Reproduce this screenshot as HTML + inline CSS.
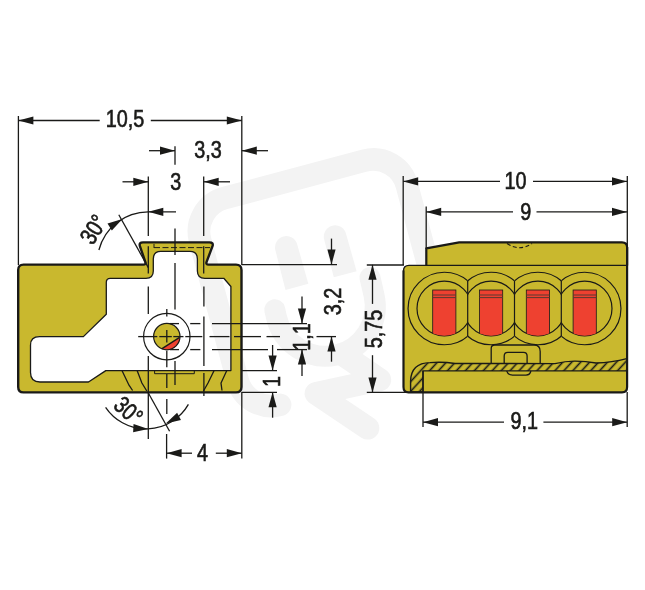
<!DOCTYPE html>
<html><head><meta charset="utf-8"><title>Drawing</title>
<style>
html,body{margin:0;padding:0;background:#fff;}
body{width:645px;height:590px;overflow:hidden;}
svg{display:block;font-family:"Liberation Sans",sans-serif;}
</style></head>
<body>
<svg width="645" height="590" viewBox="0 0 645 590">
<rect width="645" height="590" fill="#ffffff"/>
<g fill="none" stroke="#f3f3f3" stroke-linecap="round" stroke-linejoin="round">
<g transform="translate(322.2,282.7) rotate(-15.0)">
<path d="M-72.3,107 A34.7,34.7 0 0 1 -107,72.3 L-107,-72.3 A34.7,34.7 0 0 1 -72.3,-107 L72.3,-107 A34.7,34.7 0 0 1 107,-72.3 L107,72.3 A34.7,34.7 0 0 1 72.3,107" stroke-width="22.7"/>
</g>
<g transform="translate(286.3,247.3) rotate(-15)"><path d="M-11.3,0 A11.3,11.3 0 0 1 11.3,0 L11.8,41 L-11.8,41 Z" fill="#f3f3f3" stroke="none"/></g>
<g transform="translate(335.1,236.6) rotate(-15)"><path d="M-11.3,0 A11.3,11.3 0 0 1 11.3,0 L11.8,39 L-11.8,39 Z" fill="#f3f3f3" stroke="none"/></g>
<g transform="translate(323,296.5) rotate(-13)">
<path d="M-50,2 L-50,10 A50,50 0 0 0 50,10 L50,-8" stroke-width="21"/>
</g>
<path d="M345,356 L379.7,379.8 L316.1,393.4 L367.8,428.1" stroke-width="23"/>
</g>
<path d="M18.2,270 Q18.2,264.6 23.5,264.6 L143.3,264.6 Q146.3,264.6 145.3,261.8 L139.9,246.2 Q138.8,242.4 143,242.4 L209.5,242.4 Q213.7,242.4 212.5,246.2 L206.6,261.8 Q205.6,264.6 208.6,264.6 L236,264.6 Q241.5,264.6 241.5,270 L241.5,387 Q241.5,392.4 236,392.4 L23.5,392.4 Q18.2,392.4 18.2,387 Z M160.8,251.4 L189.9,251.4 Q197.4,251.4 197.4,259 L197.4,271 Q197.4,278.3 204.8,278.3 L223.8,278.3 L230.9,286.5 L230.9,370.6 L105.8,370.6 L88.5,382 L40,382 Q30.5,382 30.5,372.5 L30.5,345 Q30.5,336.6 39.5,336.6 L83.4,336.6 L106.3,314.2 L106.3,282.3 Q106.3,278.3 110.3,278.3 L146,278.3 Q153.3,278.3 153.3,271 L153.3,259 Q153.3,251.4 160.8,251.4 Z" fill="#c9b82e" fill-rule="evenodd" stroke="none"/>
<path d="M160.8,251.4 L189.9,251.4 Q197.4,251.4 197.4,259 L197.4,271 Q197.4,278.3 204.8,278.3 L223.8,278.3 L230.9,286.5 L230.9,370.6 L105.8,370.6 L88.5,382 L40,382 Q30.5,382 30.5,372.5 L30.5,345 Q30.5,336.6 39.5,336.6 L83.4,336.6 L106.3,314.2 L106.3,282.3 Q106.3,278.3 110.3,278.3 L146,278.3 Q153.3,278.3 153.3,271 L153.3,259 Q153.3,251.4 160.8,251.4 Z" fill="none" stroke="#1a1a18" stroke-width="1.3" stroke-linejoin="round"/>
<path d="M18.2,270 Q18.2,264.6 23.5,264.6 L143.3,264.6 Q146.3,264.6 145.3,261.8 L139.9,246.2 Q138.8,242.4 143,242.4 L209.5,242.4 Q213.7,242.4 212.5,246.2 L206.6,261.8 Q205.6,264.6 208.6,264.6 L236,264.6 Q241.5,264.6 241.5,270 L241.5,387 Q241.5,392.4 236,392.4 L23.5,392.4 Q18.2,392.4 18.2,387 Z" fill="none" stroke="#1a1a18" stroke-width="2.4" stroke-linejoin="round"/>
<circle cx="166.8" cy="336.6" r="13.2" fill="#c9b82e" stroke="none"/>
<clipPath id="ic"><circle cx="166.8" cy="336.6" r="13.2"/></clipPath>
<polygon clip-path="url(#ic)" points="161.7,348.8 179.4,337.6 185,352 165,355" fill="#ee4130"/>
<line x1="161.7" y1="348.8" x2="179.6" y2="337.4" stroke="#1a1a18" stroke-width="1.4"/>
<circle cx="166.8" cy="336.6" r="13.2" fill="none" stroke="#1a1a18" stroke-width="1.2"/>
<circle cx="166.8" cy="336.6" r="23.2" fill="none" stroke="#1a1a18" stroke-width="1.2"/>
<line x1="154" y1="247.6" x2="210" y2="247.6" stroke="#1a1a18" stroke-width="1" stroke-dasharray="6 2.5"/>
<line x1="154" y1="244" x2="154" y2="248" stroke="#1a1a18" stroke-width="1"/>
<path d="M154.6,370.2 L154.6,373.7 L194.3,373.7 L194.3,370.2" fill="none" stroke="#1a1a18" stroke-width="1"/>
<path d="M122.1,370.8 L129,385.2 L132.6,390.5" fill="none" stroke="#1a1a18" stroke-width="1.3"/>
<path d="M137.2,370.8 L141.9,383 L146.8,391" fill="none" stroke="#1a1a18" stroke-width="1.3"/>
<path d="M214,370.8 L208,383 L203.5,391" fill="none" stroke="#1a1a18" stroke-width="1.3"/>
<path d="M226.7,370.8 L221,383 L222,390.5" fill="none" stroke="#1a1a18" stroke-width="1.3"/>
<line x1="148.3" y1="176.6" x2="148.3" y2="236" stroke="#1a1a18" stroke-width="1.3"/>
<line x1="148.3" y1="246.3" x2="148.3" y2="273.6" stroke="#1a1a18" stroke-width="1.3"/>
<line x1="148.3" y1="286.5" x2="148.3" y2="314" stroke="#1a1a18" stroke-width="1.3"/>
<line x1="148.3" y1="356" x2="148.3" y2="439" stroke="#1a1a18" stroke-width="1.3"/>
<line x1="203.7" y1="176.6" x2="203.7" y2="236" stroke="#1a1a18" stroke-width="1.3"/>
<line x1="203.7" y1="246.3" x2="203.7" y2="273.6" stroke="#1a1a18" stroke-width="1.3"/>
<line x1="203.9" y1="286.5" x2="203.9" y2="306.5" stroke="#1a1a18" stroke-width="1.3"/>
<line x1="203.9" y1="316.5" x2="203.9" y2="366" stroke="#1a1a18" stroke-width="1.3"/>
<line x1="203.9" y1="373" x2="203.9" y2="396" stroke="#1a1a18" stroke-width="1.3"/>
<line x1="175" y1="146.2" x2="175" y2="164.8" stroke="#1a1a18" stroke-width="1.3"/>
<line x1="175" y1="228.5" x2="175" y2="255" stroke="#1a1a18" stroke-width="1.3"/>
<line x1="175" y1="263" x2="175" y2="309.5" stroke="#1a1a18" stroke-width="1.3"/>
<line x1="175" y1="361" x2="175" y2="385" stroke="#1a1a18" stroke-width="1.3"/>
<line x1="166.8" y1="308.9" x2="166.8" y2="316.5" stroke="#1a1a18" stroke-width="1.3"/>
<line x1="166.8" y1="330" x2="166.8" y2="342.5" stroke="#1a1a18" stroke-width="1.3"/>
<line x1="166.8" y1="350.8" x2="166.8" y2="367.3" stroke="#1a1a18" stroke-width="1.3"/>
<line x1="166.8" y1="374" x2="166.8" y2="388" stroke="#1a1a18" stroke-width="1.3"/>
<line x1="166.8" y1="399" x2="166.8" y2="414" stroke="#1a1a18" stroke-width="1.3"/>
<line x1="166.6" y1="434" x2="166.6" y2="458.6" stroke="#1a1a18" stroke-width="1.3"/>
<line x1="138.2" y1="336.6" x2="157.3" y2="336.6" stroke="#1a1a18" stroke-width="1.3"/>
<line x1="159.3" y1="336.6" x2="171.8" y2="336.6" stroke="#1a1a18" stroke-width="1.3"/>
<line x1="173.3" y1="336.6" x2="183.5" y2="336.6" stroke="#1a1a18" stroke-width="1.3"/>
<line x1="185.3" y1="336.6" x2="202.3" y2="336.6" stroke="#1a1a18" stroke-width="1.3"/>
<line x1="209.5" y1="336.6" x2="229.5" y2="336.6" stroke="#1a1a18" stroke-width="1.3"/>
<line x1="234" y1="336.6" x2="261" y2="336.6" stroke="#1a1a18" stroke-width="1.3"/>
<line x1="266.5" y1="336.6" x2="280" y2="336.6" stroke="#1a1a18" stroke-width="1.3"/>
<line x1="316.5" y1="336.6" x2="336" y2="336.6" stroke="#1a1a18" stroke-width="1.3"/>
<line x1="169.8" y1="323.6" x2="179" y2="323.6" stroke="#1a1a18" stroke-width="1.3"/>
<line x1="190.2" y1="323.6" x2="200.4" y2="323.6" stroke="#1a1a18" stroke-width="1.3"/>
<line x1="212" y1="323.6" x2="307" y2="323.6" stroke="#1a1a18" stroke-width="1.3"/>
<line x1="169.8" y1="349.6" x2="179" y2="349.6" stroke="#1a1a18" stroke-width="1.3"/>
<line x1="190.2" y1="349.6" x2="200.4" y2="349.6" stroke="#1a1a18" stroke-width="1.3"/>
<line x1="212" y1="349.6" x2="268" y2="349.6" stroke="#1a1a18" stroke-width="1.3"/>
<line x1="277" y1="349.6" x2="307" y2="349.6" stroke="#1a1a18" stroke-width="1.3"/>
<line x1="242" y1="264.6" x2="337" y2="264.6" stroke="#1a1a18" stroke-width="1.3"/>
<line x1="242" y1="370.6" x2="277" y2="370.6" stroke="#1a1a18" stroke-width="1.3"/>
<line x1="242" y1="392.3" x2="277" y2="392.3" stroke="#1a1a18" stroke-width="1.3"/>
<line x1="18.4" y1="116" x2="18.4" y2="265" stroke="#1a1a18" stroke-width="1.3"/>
<line x1="241.8" y1="116" x2="241.8" y2="265" stroke="#1a1a18" stroke-width="1.3"/>
<line x1="241.8" y1="392" x2="241.8" y2="458.6" stroke="#1a1a18" stroke-width="1.3"/>
<line x1="18.4" y1="120.5" x2="99.7" y2="120.5" stroke="#1a1a18" stroke-width="1.3"/>
<line x1="150.8" y1="120.5" x2="241.8" y2="120.5" stroke="#1a1a18" stroke-width="1.3"/>
<polygon points="18.40,120.50 33.40,116.40 33.40,124.60" fill="#1a1a18"/>
<polygon points="241.80,120.50 226.80,124.60 226.80,116.40" fill="#1a1a18"/>
<line x1="149" y1="150.7" x2="175" y2="150.7" stroke="#1a1a18" stroke-width="1.3"/>
<polygon points="175.00,150.70 160.00,154.80 160.00,146.60" fill="#1a1a18"/>
<line x1="241.8" y1="150.7" x2="268" y2="150.7" stroke="#1a1a18" stroke-width="1.3"/>
<polygon points="241.80,150.70 256.80,146.60 256.80,154.80" fill="#1a1a18"/>
<line x1="122.5" y1="181.8" x2="148.3" y2="181.8" stroke="#1a1a18" stroke-width="1.3"/>
<polygon points="148.30,181.80 133.30,185.90 133.30,177.70" fill="#1a1a18"/>
<line x1="203.7" y1="181.8" x2="230" y2="181.8" stroke="#1a1a18" stroke-width="1.3"/>
<polygon points="203.70,181.80 218.70,177.70 218.70,185.90" fill="#1a1a18"/>
<line x1="166.6" y1="453.2" x2="192" y2="453.2" stroke="#1a1a18" stroke-width="1.3"/>
<line x1="215.8" y1="453.2" x2="241.8" y2="453.2" stroke="#1a1a18" stroke-width="1.3"/>
<polygon points="166.60,453.20 181.60,449.10 181.60,457.30" fill="#1a1a18"/>
<polygon points="241.80,453.20 226.80,457.30 226.80,449.10" fill="#1a1a18"/>
<line x1="331.5" y1="238.6" x2="331.5" y2="264.6" stroke="#1a1a18" stroke-width="1.3"/>
<polygon points="331.50,264.60 327.40,249.60 335.60,249.60" fill="#1a1a18"/>
<line x1="331.5" y1="336.6" x2="331.5" y2="361.7" stroke="#1a1a18" stroke-width="1.3"/>
<polygon points="331.50,336.60 335.60,351.60 327.40,351.60" fill="#1a1a18"/>
<line x1="302.0" y1="296.5" x2="302.0" y2="323.6" stroke="#1a1a18" stroke-width="1.3"/>
<polygon points="302.00,323.60 297.90,308.60 306.10,308.60" fill="#1a1a18"/>
<line x1="302.0" y1="349.6" x2="302.0" y2="376" stroke="#1a1a18" stroke-width="1.3"/>
<polygon points="302.00,349.60 306.10,364.60 297.90,364.60" fill="#1a1a18"/>
<line x1="272.6" y1="345" x2="272.6" y2="370.6" stroke="#1a1a18" stroke-width="1.3"/>
<polygon points="272.60,370.60 268.50,355.60 276.70,355.60" fill="#1a1a18"/>
<line x1="272.6" y1="392.3" x2="272.6" y2="417.7" stroke="#1a1a18" stroke-width="1.3"/>
<polygon points="272.60,392.30 276.70,407.30 268.50,407.30" fill="#1a1a18"/>
<line x1="372.5" y1="264.8" x2="372.5" y2="303.9" stroke="#1a1a18" stroke-width="1.3"/>
<line x1="372.5" y1="355.2" x2="372.5" y2="392.4" stroke="#1a1a18" stroke-width="1.3"/>
<polygon points="372.50,264.80 376.60,279.80 368.40,279.80" fill="#1a1a18"/>
<polygon points="372.50,392.40 368.40,377.40 376.60,377.40" fill="#1a1a18"/>
<line x1="366.8" y1="265" x2="404" y2="265" stroke="#1a1a18" stroke-width="1.3"/>
<line x1="366.8" y1="392.3" x2="406" y2="392.3" stroke="#1a1a18" stroke-width="1.3"/>
<path d="M98.9,250 A51,51 0 0 1 148.3,211.8 L176,211.8" fill="none" stroke="#1a1a18" stroke-width="1.3"/>
<line x1="118.8" y1="214.7" x2="148.3" y2="267.6" stroke="#1a1a18" stroke-width="1.3"/>
<polygon points="148.30,211.80 163.30,207.70 163.30,215.90" fill="#1a1a18"/>
<polygon points="122.40,219.00 111.85,230.43 107.51,223.47" fill="#1a1a18"/>
<path d="M105.6,407.3 A48.8,48.8 0 0 0 188.4,404.4" fill="none" stroke="#1a1a18" stroke-width="1.3"/>
<line x1="148.2" y1="392.8" x2="169.6" y2="431.2" stroke="#1a1a18" stroke-width="1.3"/>
<polygon points="148.30,428.90 133.11,432.21 133.54,424.02" fill="#1a1a18"/>
<polygon points="165.80,423.50 177.12,412.84 180.97,420.08" fill="#1a1a18"/>
<path d="M426.3,265.4 L426.3,248.3 L459.2,242.4 L622,242.4 Q627.1,242.4 627.1,247.5 L627.1,265.4 Z" fill="#c9b82e"/>
<path d="M403.5,271 Q403.5,265.4 409,265.4 L627.1,265.4 L627.1,387 Q627.1,392.4 622,392.4 L408.5,392.4 Q403.5,392.4 403.5,387 Z" fill="#c9b82e"/>
<defs>
<clipPath id="cell0"><rect x="384.3" y="260" width="83.39999999999998" height="100"/></clipPath>
<clipPath id="in0"><circle cx="444.3" cy="308.5" r="27.3"/></clipPath>
<clipPath id="cell1"><rect x="467.70000000000005" y="260" width="46.799999999999955" height="100"/></clipPath>
<clipPath id="in1"><circle cx="491.1" cy="308.5" r="27.3"/></clipPath>
<clipPath id="cell2"><rect x="514.5" y="260" width="46.799999999999955" height="100"/></clipPath>
<clipPath id="in2"><circle cx="537.9" cy="308.5" r="27.3"/></clipPath>
<clipPath id="cell3"><rect x="561.3000000000001" y="260" width="83.39999999999998" height="100"/></clipPath>
<clipPath id="in3"><circle cx="584.7" cy="308.5" r="27.3"/></clipPath>
</defs>
<g clip-path="url(#cell0)">
<circle cx="444.3" cy="308.5" r="36.25" fill="none" stroke="#1a1a18" stroke-width="1.2"/>
<circle cx="444.3" cy="308.5" r="27.3" fill="none" stroke="#1a1a18" stroke-width="1.2"/>
</g>
<g clip-path="url(#in0)">
<rect x="432.7" y="290" width="23.2" height="50" fill="#ee4130" stroke="#1a1a18" stroke-width="0.8"/>
<line x1="432.7" y1="295.0" x2="455.90000000000003" y2="295.0" stroke="#5a3a30" stroke-width="1"/>
<line x1="432.7" y1="297.6" x2="455.90000000000003" y2="297.6" stroke="#5a3a30" stroke-width="1"/>
</g>
<g clip-path="url(#cell1)">
<circle cx="491.1" cy="308.5" r="36.25" fill="none" stroke="#1a1a18" stroke-width="1.2"/>
<circle cx="491.1" cy="308.5" r="27.3" fill="none" stroke="#1a1a18" stroke-width="1.2"/>
</g>
<g clip-path="url(#in1)">
<rect x="479.5" y="290" width="23.2" height="50" fill="#ee4130" stroke="#1a1a18" stroke-width="0.8"/>
<line x1="479.5" y1="295.0" x2="502.70000000000005" y2="295.0" stroke="#5a3a30" stroke-width="1"/>
<line x1="479.5" y1="297.6" x2="502.70000000000005" y2="297.6" stroke="#5a3a30" stroke-width="1"/>
</g>
<g clip-path="url(#cell2)">
<circle cx="537.9" cy="308.5" r="36.25" fill="none" stroke="#1a1a18" stroke-width="1.2"/>
<circle cx="537.9" cy="308.5" r="27.3" fill="none" stroke="#1a1a18" stroke-width="1.2"/>
</g>
<g clip-path="url(#in2)">
<rect x="526.3" y="290" width="23.2" height="50" fill="#ee4130" stroke="#1a1a18" stroke-width="0.8"/>
<line x1="526.3" y1="295.0" x2="549.5" y2="295.0" stroke="#5a3a30" stroke-width="1"/>
<line x1="526.3" y1="297.6" x2="549.5" y2="297.6" stroke="#5a3a30" stroke-width="1"/>
</g>
<g clip-path="url(#cell3)">
<circle cx="584.7" cy="308.5" r="36.25" fill="none" stroke="#1a1a18" stroke-width="1.2"/>
<circle cx="584.7" cy="308.5" r="27.3" fill="none" stroke="#1a1a18" stroke-width="1.2"/>
</g>
<g clip-path="url(#in3)">
<rect x="573.1" y="290" width="23.2" height="50" fill="#ee4130" stroke="#1a1a18" stroke-width="0.8"/>
<line x1="573.1" y1="295.0" x2="596.3000000000001" y2="295.0" stroke="#5a3a30" stroke-width="1"/>
<line x1="573.1" y1="297.6" x2="596.3000000000001" y2="297.6" stroke="#5a3a30" stroke-width="1"/>
</g>
<line x1="467.7" y1="280.8142184506198" x2="467.7" y2="336.1857815493802" stroke="#1a1a18" stroke-width="1.2"/>
<line x1="514.5" y1="280.8142184506198" x2="514.5" y2="336.1857815493802" stroke="#1a1a18" stroke-width="1.2"/>
<line x1="561.3" y1="280.8142184506198" x2="561.3" y2="336.1857815493802" stroke="#1a1a18" stroke-width="1.2"/>
<path d="M491.2,363.6 L491.2,348.5 Q491.2,345 494.7,345 L534,345 Q540.2,345 540.2,351.5 L540.2,363.6" fill="none" stroke="#1a1a18" stroke-width="1.3"/>
<path d="M504.2,363.6 L504.2,356 Q504.2,352.4 507.8,352.4 L523.5,352.4 Q527.1,352.4 527.1,356 L527.1,363.6" fill="none" stroke="#1a1a18" stroke-width="1.3"/>
<path d="M506.7,371 Q508,375.1 512.5,375.1 L526,375.1 Q530,375.1 530.9,371" fill="none" stroke="#1a1a18" stroke-width="1.3"/>
<defs><pattern id="hatch" width="6.6" height="6.6" patternUnits="userSpaceOnUse" patternTransform="translate(426.97,368.67) rotate(42.5)"><line x1="3.3" y1="-1" x2="3.3" y2="7.6" stroke="#1a1a18" stroke-width="1.6"/></pattern></defs>
<path d="M410.6,392 L410.6,381 Q411,363 430,362.6 Q443,361.6 455,363.5 L555,363.6 Q566,361 575,361.1 Q586,361.3 596,363 Q612,362.5 626.8,358.6 L626.8,370.9 L423,370.9 L423,392 Z" fill="url(#hatch)" stroke="#1a1a18" stroke-width="1.4"/>
<path d="M426.3,265.4 L426.3,248.3 L459.2,242.4 L622,242.4 Q627.1,242.4 627.1,247.5 L627.1,265.4" fill="none" stroke="#1a1a18" stroke-width="2.2" stroke-linejoin="round"/>
<path d="M403.5,271 Q403.5,265.4 409,265.4 L627.1,265.4" fill="none" stroke="#1a1a18" stroke-width="1.4"/>
<path d="M627.1,247 L627.1,387 Q627.1,392.4 622,392.4 L408.5,392.4 Q403.5,392.4 403.5,387 L403.5,270.5" fill="none" stroke="#1a1a18" stroke-width="2.2"/>
<path d="M507,243.5 Q519.5,252 532,243.5" fill="none" stroke="#1a1a18" stroke-width="1.1" stroke-dasharray="4 2.5"/>
<line x1="403.2" y1="176" x2="403.2" y2="265" stroke="#1a1a18" stroke-width="1.3"/>
<line x1="627.3" y1="176" x2="627.3" y2="247" stroke="#1a1a18" stroke-width="1.3"/>
<line x1="426.2" y1="206.5" x2="426.2" y2="249" stroke="#1a1a18" stroke-width="1.3"/>
<line x1="403.2" y1="181.4" x2="500" y2="181.4" stroke="#1a1a18" stroke-width="1.3"/>
<line x1="533" y1="181.4" x2="627" y2="181.4" stroke="#1a1a18" stroke-width="1.3"/>
<polygon points="403.20,181.40 418.20,177.30 418.20,185.50" fill="#1a1a18"/>
<polygon points="627.00,181.40 612.00,185.50 612.00,177.30" fill="#1a1a18"/>
<line x1="426.2" y1="211.9" x2="513" y2="211.9" stroke="#1a1a18" stroke-width="1.3"/>
<line x1="536.5" y1="211.9" x2="627" y2="211.9" stroke="#1a1a18" stroke-width="1.3"/>
<polygon points="426.20,211.90 441.20,207.80 441.20,216.00" fill="#1a1a18"/>
<polygon points="627.00,211.90 612.00,216.00 612.00,207.80" fill="#1a1a18"/>
<line x1="423" y1="371" x2="423" y2="427" stroke="#1a1a18" stroke-width="1.3"/>
<line x1="627.2" y1="392" x2="627.2" y2="427" stroke="#1a1a18" stroke-width="1.3"/>
<line x1="423" y1="422.2" x2="504" y2="422.2" stroke="#1a1a18" stroke-width="1.3"/>
<line x1="543.4" y1="422.2" x2="627" y2="422.2" stroke="#1a1a18" stroke-width="1.3"/>
<polygon points="423.00,422.20 438.00,418.10 438.00,426.30" fill="#1a1a18"/>
<polygon points="627.20,422.20 612.20,426.30 612.20,418.10" fill="#1a1a18"/>
<defs><mask id="tm" maskUnits="userSpaceOnUse" x="0" y="0" width="645" height="590"><rect width="645" height="590" fill="#fff"/></mask></defs>
<g mask="url(#tm)" fill="#1a1a18" stroke="#1a1a18" stroke-width="0.65">
<text transform="translate(125.0,127.0) rotate(0) scale(0.825,1)" font-size="24" text-anchor="middle">10,5</text>
<text transform="translate(208,158.2) rotate(0) scale(0.825,1)" font-size="24" text-anchor="middle">3,3</text>
<text transform="translate(175.8,189.7) rotate(0) scale(0.825,1)" font-size="24" text-anchor="middle">3</text>
<text transform="translate(202.6,461) rotate(0) scale(0.825,1)" font-size="24" text-anchor="middle">4</text>
<text transform="translate(340.9,301.5) rotate(-90) scale(0.825,1)" font-size="24" text-anchor="middle">3,2</text>
<text transform="translate(309.6,337) rotate(-90) scale(0.825,1)" font-size="24" text-anchor="middle">1,1</text>
<text transform="translate(280.0,381.5) rotate(-90) scale(0.825,1)" font-size="24" text-anchor="middle">1</text>
<text transform="translate(382.2,329.0) rotate(-90) scale(0.825,1)" font-size="24" text-anchor="middle">5,75</text>
<text transform="translate(100.5,233.7) rotate(-58) scale(0.8,1)" font-size="24" text-anchor="middle">30°</text>
<text transform="translate(122.95,416.8) rotate(42) scale(0.8,1)" font-size="24" text-anchor="middle">30°</text>
<text transform="translate(515.5,189.3) rotate(0) scale(0.825,1)" font-size="24" text-anchor="middle">10</text>
<text transform="translate(525.7,219.8) rotate(0) scale(0.825,1)" font-size="24" text-anchor="middle">9</text>
<text transform="translate(524.3,429.2) rotate(0) scale(0.825,1)" font-size="24" text-anchor="middle">9,1</text>
</g>
</svg>
</body></html>
